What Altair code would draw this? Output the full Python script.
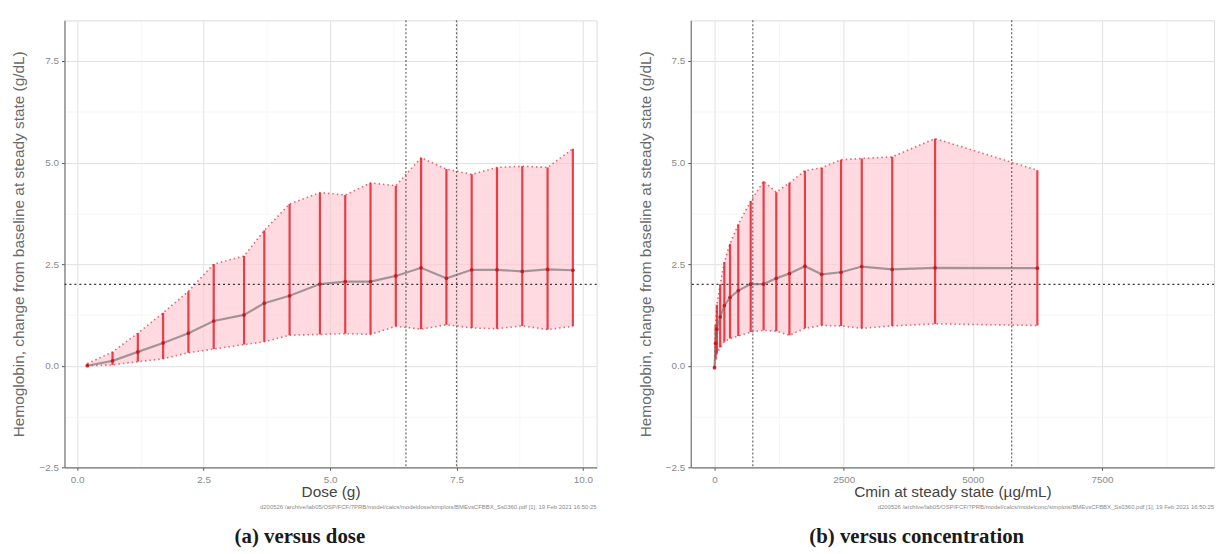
import altair as alt
import pandas as pd

# ---------------- data ----------------
dose = [0.2, 0.7, 1.2, 1.7, 2.2, 2.7, 3.3, 3.7, 4.2, 4.8, 5.3, 5.8, 6.3, 6.8, 7.3, 7.8, 8.3, 8.8, 9.3, 9.8]
dose_median = [0.0, 0.12, 0.34, 0.56, 0.8, 1.1, 1.25, 1.54, 1.72, 2.01, 2.07, 2.07, 2.21, 2.41, 2.15, 2.36, 2.36, 2.32, 2.37, 2.35]
dose_lower = [0.0, 0.02, 0.1, 0.17, 0.32, 0.41, 0.52, 0.59, 0.75, 0.77, 0.79, 0.77, 0.97, 0.9, 1.01, 0.93, 0.91, 0.98, 0.89, 0.97]
dose_upper = [0.05, 0.34, 0.8, 1.3, 1.83, 2.5, 2.7, 3.33, 3.98, 4.26, 4.2, 4.5, 4.43, 5.12, 4.84, 4.71, 4.88, 4.91, 4.88, 5.34]

conc = [0, 20, 45, 109, 190, 300, 460, 700, 950, 1195, 1450, 1750, 2075, 2450, 2850, 3440, 4270, 6250]
conc_median = [-0.05, 0.55, 0.9, 1.2, 1.48, 1.68, 1.85, 2.01, 2.01, 2.15, 2.27, 2.45, 2.25, 2.3, 2.44, 2.37, 2.41, 2.4]
conc_lower = [-0.05, 0.15, 0.3, 0.45, 0.59, 0.67, 0.73, 0.83, 0.87, 0.85, 0.75, 0.92, 0.99, 0.98, 0.92, 0.98, 1.03, 0.99]
conc_upper = [0.0, 1.0, 1.5, 2.0, 2.55, 3.0, 3.48, 4.05, 4.54, 4.27, 4.5, 4.8, 4.87, 5.07, 5.1, 5.14, 5.59, 4.81]

dose_vlines = [6.5, 7.5]
conc_vlines = [741, 5753]
hline_value = [2.0]

y_grid = [-2.5, -1.25, 0.0, 1.25, 2.5, 3.75, 5.0, 6.25, 7.5]
dose_grid = [0.0, 1.25, 2.5, 3.75, 5.0, 6.25, 7.5, 8.75, 10.0]
conc_grid = [0, 1250, 2500, 3750, 5000, 6250, 7500, 8750]

y_domain = [-2.5, 8.5]
dose_domain = [-0.25, 10.27]
conc_domain = [-460, 9670]

y_title = "Hemoglobin, change from baseline at steady state (g/dL)"
dose_title = "Dose (g)"
conc_title = "Cmin at steady state (µg/mL)"
caption_a = "(a) versus dose"
caption_b = "(b) versus concentration"
footnote_a = ("d200526 /archive/lab05/OSP/FCF/7PRB/model/calcs/modeldose/simplots/BMEvsCFBBX_Ss0360.pdf [1]; "
              "19 Feb 2021 16:50:25")
footnote_b = ("d200526 /archive/lab05/OSP/FCF/7PRB/model/calcs/modelconc/simplots/BMEvsCFBBX_Ss0360.pdf [1]; "
              "19 Feb 2021 16:50:25")

FONT = "Liberation Sans"
SERIF = "Liberation Serif"
W_A, W_B, H = 537, 528, 451


def axis_def(values, step, fmt, title, is_y):
    test = f"abs(datum.value % {step}) < 1e-9"
    kw = dict(
        values=values,
        labelExpr=f"{test} ? format(datum.value, '{fmt}') : ''",
        gridColor={"condition": {"test": test, "value": "#e2e2e2"}, "value": "#efefef"},
        gridWidth={"condition": {"test": test, "value": 1.0}, "value": 0.6},
        tickOpacity={"condition": {"test": test, "value": 1}, "value": 0},
        tickColor="#555555",
        tickSize=3,
        tickWidth=1,
        domain=True,
        domainColor="#777777",
        domainWidth=1.2,
        labelFont=FONT,
        labelFontSize=10,
        labelColor="#8a8a8a",
        labelPadding=3,
        title=title,
        titleFont=FONT,
        titleFontWeight="normal",
    )
    if is_y:
        kw.update(titleFontSize=15.5, titleColor="#6a6a6a", titleX=-38, titleY=H / 2,
                  titleAngle=270, titleBaseline="bottom", titleAlign="center")
    else:
        kw.update(titleFontSize=15.5, titleColor="#444444", titlePadding=0, labelPadding=4)
    return alt.Axis(**kw)


def panel(xs, med, lo, hi, domain, grid, step, fmt, vlines, xtitle, caption, width, footnote, cap_dx):
    df = pd.DataFrame({"x": xs, "median": med, "lower": lo, "upper": hi})
    xscale = alt.Scale(domain=domain, nice=False, zero=False)
    yscale = alt.Scale(domain=y_domain, nice=False, zero=False)
    xaxis = axis_def(grid, step, fmt, xtitle, False)
    yaxis = axis_def(y_grid, 2.5, ".1f", y_title, True)

    X = alt.X("x:Q", scale=xscale, axis=xaxis)
    base = alt.Chart(df).encode(x=X)

    area = base.mark_area(color="#ffc4cf", opacity=0.62).encode(
        y=alt.Y("lower:Q", scale=yscale, axis=yaxis), y2="upper:Q")
    up = base.mark_line(color="#e0505a", strokeDash=[1.5, 3], strokeWidth=1.6, opacity=0.85).encode(
        y=alt.Y("upper:Q", scale=yscale, axis=yaxis))
    low = base.mark_line(color="#e0505a", strokeDash=[1.5, 3], strokeWidth=1.6, opacity=0.85).encode(
        y=alt.Y("lower:Q", scale=yscale, axis=yaxis))
    vdf = pd.DataFrame({"v": vlines})
    vr = alt.Chart(vdf).mark_rule(color="#666666", strokeDash=[2, 2], strokeWidth=1.2).encode(
        x=alt.X("v:Q", scale=xscale, axis=xaxis))
    hdf = pd.DataFrame({"h": hline_value})
    hr = alt.Chart(hdf).mark_rule(color="#333333", strokeDash=[2, 3], strokeWidth=1.3).encode(
        y=alt.Y("h:Q", scale=yscale, axis=yaxis))
    bars = base.mark_rule(color="#e3161f", strokeWidth=2.2, opacity=0.8).encode(
        y=alt.Y("lower:Q", scale=yscale, axis=yaxis), y2="upper:Q")
    medline = base.mark_line(color="#707070", strokeWidth=2.2, opacity=0.65).encode(
        y=alt.Y("median:Q", scale=yscale, axis=yaxis))
    pts = base.mark_circle(color="#d0101a", size=14, opacity=0.9).encode(
        y=alt.Y("median:Q", scale=yscale, axis=yaxis))
    fdf = pd.DataFrame({"t": [footnote]})
    foot = alt.Chart(fdf).mark_text(align="right", baseline="middle", fontSize=6, color="#8a8a8a",
                                    font=FONT).encode(
        x=alt.value(width), y=alt.value(H + 40), text="t:N")

    return alt.layer(area, up, low, hr, vr, bars, medline, pts, foot).properties(
        width=width, height=H,
        title=alt.TitleParams(caption, orient="bottom", anchor="middle", font=SERIF, fontSize=21,
                              fontWeight="bold", color="#1a1a1a", offset=16, dx=cap_dx),
    )


pa = panel(dose, dose_median, dose_lower, dose_upper, dose_domain, dose_grid, 2.5, ".1f",
           dose_vlines, dose_title, caption_a, W_A, footnote_a, -31)
pb = panel(conc, conc_median, conc_lower, conc_upper, conc_domain, conc_grid, 2500, "d",
           conc_vlines, conc_title, caption_b, W_B, footnote_b, -36)

chart = alt.hconcat(pa, pb, spacing=39).properties(
    padding={"left": 3, "top": 8, "right": 0, "bottom": 0}
).configure_view(stroke="#9a9a9a", strokeWidth=1.2).configure(background="white")

chart.save("out.html", embed_options={"renderer": "svg", "actions": False})
